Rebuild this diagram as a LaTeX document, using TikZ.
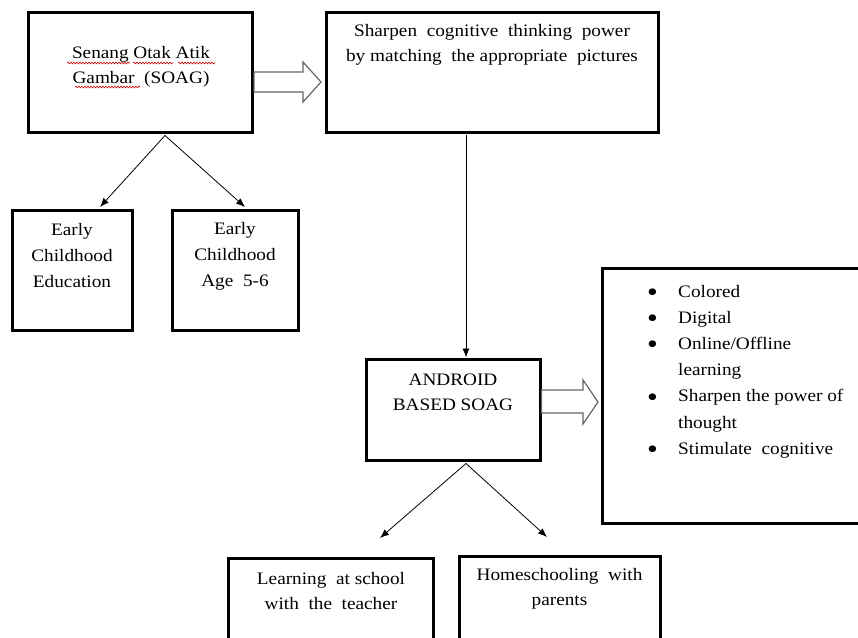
\documentclass[tikz,border=0pt]{standalone}
\usepackage{fontspec}
\setmainfont[FakeStretch=1.1]{Liberation Serif}
\usetikzlibrary{calc,arrows.meta,decorations.pathmorphing}
\newcommand{\bigbul}{\makebox[33pt][l]{\hspace*{2pt}\smash{\raisebox{-4.5pt}{\fontsize{28}{25}\selectfont\textbullet}}}}
\begin{document}
\begin{tikzpicture}[x=1pt,y=-1pt,
  box/.style={draw,line width=3pt,inner sep=0pt},
  txt/.style={align=center,inner sep=0pt,font=\fontsize{17.5}{25}\selectfont},
  conn/.style={draw,line width=0.8pt,-{Latex[length=9pt,width=7pt]}},
  blockarrow/.style={draw=black!60,line width=1.2pt,fill=white,line join=miter},
  squig/.style={draw=red!80!black,line width=0.6pt,decorate,decoration={snake,amplitude=0.9pt,segment length=3pt}}]
\useasboundingbox (0,0) rectangle (858,637);
% boxes
\node[box,minimum width=224pt,minimum height=120pt] (soag) at (140,72) {};
\node[box,minimum width=332pt,minimum height=120pt] (sharp) at (492,72) {};
\node[box,minimum width=120pt,minimum height=120pt] (ece) at (72,270) {};
\node[box,minimum width=126pt,minimum height=120pt] (eca) at (235,270) {};
\node[box,minimum width=174pt,minimum height=101pt] (andr) at (453,409.5) {};
\node[box,minimum width=270pt,minimum height=255pt] (feat) at (737,395.5) {};
\node[box,minimum width=205pt,minimum height=100pt] (learn) at (331,608) {};
\node[box,minimum width=201pt,minimum height=100pt] (home) at (559.5,606) {};
% texts
\node[txt] (tsoag) at (141,67) {Senang Otak Atik\\Gambar\ \ (SOAG)};
\node[txt] (tsharp) at (492,45) {Sharpen\ \ cognitive\ \ thinking\ \ power\\by matching\ \ the appropriate\ \ pictures};
\node[txt,font=\fontsize{17.5}{26}\selectfont] (tece) at (72,256) {Early\\Childhood\\Education};
\node[txt,font=\fontsize{17.5}{26}\selectfont] (teca) at (235,256) {Early\\Childhood\\Age\ \ 5-6};
\node[txt] (tandr) at (453,392) {ANDROID\\BASED SOAG};
\node[txt] (tlearn) at (331,591) {Learning\ \ at school\\with\ \ the\ \ teacher};
\node[txt] (thome) at (559.5,589) {Homeschooling\ \ with\\parents};
\node[txt,align=left,anchor=west,font=\fontsize{17.5}{26.2}\selectfont] (tfeat) at (645,371.5) {%
\bigbul Colored\\
\bigbul Digital\\
\bigbul Online/Offline\\
\hspace*{33pt}learning\\
\bigbul Sharpen the power of\\
\hspace*{33pt}thought\\
\bigbul Stimulate\ \ cognitive};
% spell-check squiggles
\coordinate (s1a) at (67,63); \coordinate (s1b) at (130,63);
\coordinate (s2a) at (133,63); \coordinate (s2b) at (173,63);
\coordinate (s3a) at (178,63); \coordinate (s3b) at (215,63);
\coordinate (s4a) at (75,87); \coordinate (s4b) at (140,87);
\draw[squig] (s1a) -- (s1b);
\draw[squig] (s2a) -- (s2b);
\draw[squig] (s3a) -- (s3b);
\draw[squig] (s4a) -- (s4b);
% connectors
\coordinate (f1) at ($(soag.south)+(25,2)$);
\coordinate (c1) at (100,207);
\coordinate (c2) at (245,207);
\draw[conn] (f1) -- (c1);
\draw[conn] (f1) -- (c2);
\coordinate (v1) at ($(sharp.south)+(-26,1.5)$);
\draw[conn] (v1) -- (v1 |- andr.north);
\coordinate (f2) at ($(andr.south)+(13,2)$);
\coordinate (c3) at (380,538);
\coordinate (c4) at (547,537);
\draw[conn] (f2) -- (c3);
\draw[conn] (f2) -- (c4);
% block arrows
\draw[blockarrow] (254,72) -- (303,72) -- (303,62) -- (321,82) -- (303,102) -- (303,92) -- (254,92) -- cycle;
\draw[blockarrow] (541.5,390) -- (583,390) -- (583,380) -- (598,402) -- (583,424) -- (583,413) -- (541.5,413) -- cycle;
\end{tikzpicture}
\end{document}
